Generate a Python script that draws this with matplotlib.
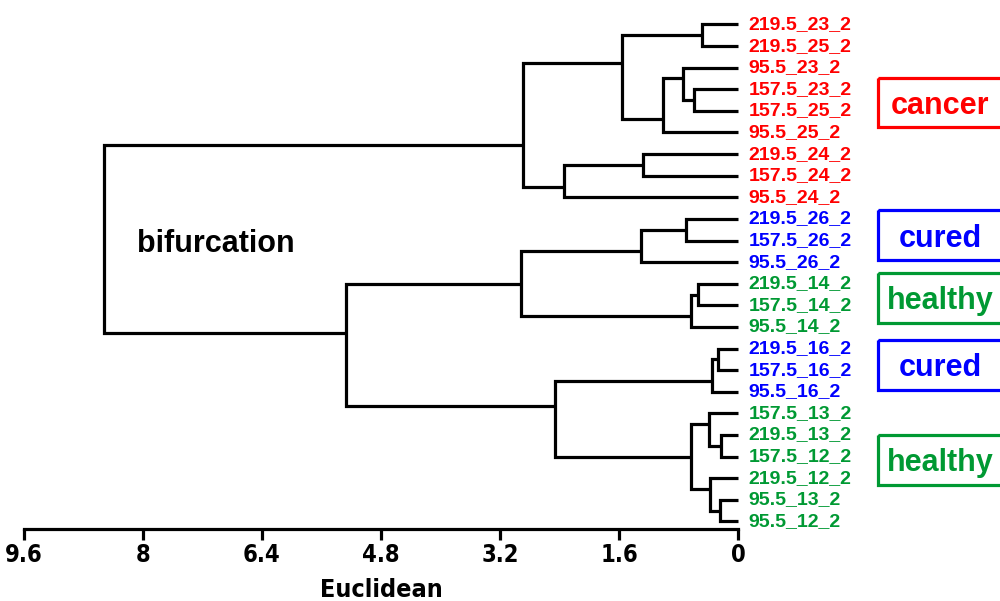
import matplotlib
matplotlib.use("Agg")
import matplotlib.pyplot as plt
import matplotlib.transforms as mtransforms
from matplotlib.patches import Rectangle

plt.rcParams["font.family"] = ["Liberation Sans", "DejaVu Sans"]
plt.rcParams["font.weight"] = "bold"

# leaf labels, top to bottom
leaves = [
    "219.5_23_2", "219.5_25_2", "95.5_23_2", "157.5_23_2", "157.5_25_2", "95.5_25_2",
    "219.5_24_2", "157.5_24_2", "95.5_24_2",
    "219.5_26_2", "157.5_26_2", "95.5_26_2",
    "219.5_14_2", "157.5_14_2", "95.5_14_2",
    "219.5_16_2", "157.5_16_2", "95.5_16_2",
    "157.5_13_2", "219.5_13_2", "157.5_12_2", "219.5_12_2", "95.5_13_2", "95.5_12_2",
]
leaf_group = (["cancer"] * 9 + ["cured"] * 3 + ["healthy"] * 3
              + ["cured"] * 3 + ["healthy"] * 6)

# merges: (left node, right node, euclidean height); new nodes numbered from 24
merges = [
    (0, 1, 0.48),
    (3, 4, 0.59),
    (2, 25, 0.74),
    (26, 5, 1.01),
    (24, 27, 1.56),
    (6, 7, 1.28),
    (29, 8, 2.34),
    (28, 30, 2.89),
    (9, 10, 0.70),
    (32, 11, 1.30),
    (12, 13, 0.54),
    (34, 14, 0.63),
    (33, 35, 2.92),
    (15, 16, 0.27),
    (37, 17, 0.35),
    (19, 20, 0.23),
    (18, 39, 0.39),
    (22, 23, 0.24),
    (21, 41, 0.37),
    (40, 42, 0.63),
    (38, 43, 2.46),
    (36, 44, 5.27),
    (31, 45, 8.52),
]

group_names = ["cancer", "cured", "healthy", "cured", "healthy"]
group_centers = [3.61, 9.75, 12.66, 15.76, 20.16]

colors = {"cancer": "#FF0000", "cured": "#0000FF", "healthy": "#009933"}
xticks = [9.6, 8, 6.4, 4.8, 3.2, 1.6, 0]
xtick_labels = ["9.6", "8", "6.4", "4.8", "3.2", "1.6", "0"]

narrow = dict(family=["Liberation Sans Narrow", "DejaVu Sans"], stretch="condensed")

fig = plt.figure(figsize=(10, 6.01), dpi=100)
ax = fig.add_axes([0.024, 0.1198, 0.714, 0.8802])

# node positions
ypos = {i: float(i) for i in range(len(leaves))}
hpos = {i: 0.0 for i in range(len(leaves))}
count = {i: 1 for i in range(len(leaves))}

lw = 2.3
node = len(leaves)
for a, b, h in merges:
    ax.plot([hpos[a], h, h, hpos[b]], [ypos[a], ypos[a], ypos[b], ypos[b]],
            color="black", lw=lw, solid_joinstyle="miter", solid_capstyle="butt",
            clip_on=False)
    na, nb = count[a], count[b]
    ypos[node] = (nb * ypos[a] + na * ypos[b]) / (na + nb)
    hpos[node] = h
    count[node] = na + nb
    node += 1

ax.set_xlim(9.6, 0)
ax.set_ylim(23.356, -1.134)

for i, name in enumerate(leaves):
    ax.annotate(name, xy=(0, i), xytext=(7.5, 0), textcoords="offset points",
                ha="left", va="center", fontsize=14, fontweight="bold",
                color=colors[leaf_group[i]], annotation_clip=False)

# group boxes on the right
trans = mtransforms.blended_transform_factory(fig.transFigure, ax.transData)
box_h = 2.3
for name, yc in zip(group_names, group_centers):
    rect = Rectangle((0.878, yc - box_h / 2), 0.13, box_h, transform=trans,
                     fill=False, edgecolor=colors[name], lw=2.3, clip_on=False)
    fig.add_artist(rect)
    fig.text(0.94, yc, name, transform=trans, ha="center", va="center_baseline",
             fontsize=22, fontweight="bold", color=colors[name])

ax.text(8.08, 10.55, "bifurcation", ha="left", va="baseline",
        fontsize=22, fontweight="bold", color="black")

for side in ["top", "right", "left"]:
    ax.spines[side].set_visible(False)
ax.spines["bottom"].set_linewidth(2.3)
ax.set_yticks([])
ax.set_xticks(xticks)
ax.set_xticklabels(xtick_labels, fontsize=17, fontweight="bold", **narrow)
ax.tick_params(axis="x", direction="out", length=8, width=2.3, pad=2)
ax.set_xlabel("Euclidean", fontsize=18, fontweight="bold", labelpad=8, **narrow)

fig.savefig("out.png", dpi=100)
